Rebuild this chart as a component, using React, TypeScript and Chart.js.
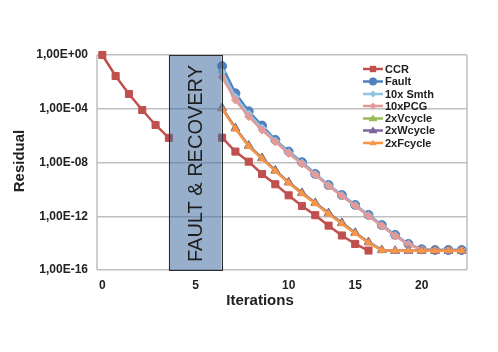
import React, { useEffect, useRef } from 'react';
import { Chart, registerables } from 'chart.js';

Chart.register(...registerables);

// x positions on the plot (fault gap between 5 and 9)
const xTickPositions = [0, 7, 14, 19, 24];
const xTickLabels = ['0', '5', '10', '15', '20'];
const yTickValues = [1e0, 1e-4, 1e-8, 1e-12, 1e-16];
const yTickLabels = ['1,00E+00', '1,00E-04', '1,00E-08', '1,00E-12', '1,00E-16'];

const ccrPrePos = [0, 1, 2, 3, 4, 5];
const ccrPre = [1, 2.75e-2, 1.26e-3, 8.1e-5, 6.2e-6, 6.8e-7];
const gapPos = 7;
const postPos = [9, 10, 11, 12, 13, 14, 15, 16, 17, 18, 19, 20, 21, 22, 23, 24, 25, 26, 27];
const ccrPost = [7e-7, 6.5e-8, 1.15e-8, 1.4e-9, 2.4e-10, 3.6e-11, 5.8e-12, 1.2e-12, 2.0e-13, 3.7e-14, 8.7e-15, 2.8e-15];
const fault = [1.5e-1, 1.4e-3, 6.5e-5, 5.6e-6, 4.8e-7, 6.5e-8, 1.05e-8, 1.4e-9, 2.1e-10, 3.8e-11, 6.9e-12, 1.26e-12, 2.2e-13, 4.1e-14, 8.7e-15, 3.5e-15, 3.1e-15, 3.1e-15, 3.1e-15];
const smth10x = [5.5e-2, 7.4e-4, 4.1e-5, 3.7e-6, 4.0e-7, 5.5e-8, 9e-9, 1.3e-9, 2.0e-10, 3.5e-11, 6.3e-12, 1.15e-12, 2.0e-13, 3.7e-14, 8.3e-15, 3.4e-15, 3.1e-15, 3.1e-15, 3.1e-15];
const pcg10x = [2.3e-2, 4.5e-4, 2.6e-5, 2.6e-6, 3.4e-7, 4.7e-8, 7.8e-9, 1.2e-9, 1.8e-10, 3.2e-11, 5.8e-12, 1.05e-12, 1.9e-13, 3.4e-14, 7.9e-15, 3.4e-15, 3.1e-15, 3.1e-15, 3.1e-15];
const vcycle2x = [1.15e-4, 3.7e-6, 1.85e-7, 2.2e-8, 2.6e-9, 3.5e-10, 5.6e-11, 1.0e-11, 1.75e-12, 3.3e-13, 6.0e-14, 1.23e-14, 3.1e-15, 2.7e-15, 2.7e-15, 2.7e-15, 2.7e-15, 2.7e-15, 2.7e-15];
const wcycle2x = [1.1e-4, 3.5e-6, 1.75e-7, 2.1e-8, 2.5e-9, 3.3e-10, 5.3e-11, 9.5e-12, 1.65e-12, 3.1e-13, 5.7e-14, 1.15e-14, 3.0e-15, 2.7e-15, 2.7e-15, 2.7e-15, 2.7e-15, 2.7e-15, 2.7e-15];
const fcycle2x = [1.0e-4, 3.2e-6, 1.6e-7, 1.9e-8, 2.3e-9, 3.0e-10, 4.8e-11, 8.8e-12, 1.5e-12, 2.8e-13, 5.2e-14, 1.05e-14, 2.9e-15, 2.7e-15, 2.7e-15, 2.7e-15, 2.7e-15, 2.7e-15, 2.7e-15];

const seriesNames = ['CCR', 'Fault', '10x Smth', '10xPCG', '2xVcycle', '2xWcycle', '2xFcycle'];
const seriesColors = ['#C0504D', '#4F81BD', '#93C3E3', '#E39A98', '#9BBB59', '#8064A2', '#F79646'];
const seriesShapes = ['rect', 'circle', 'rectRot', 'rectRot', 'triangle', 'triangle', 'triangle'];
const seriesRadius = [5, 4.5, 4, 4, 5, 5, 4];

const FONT = '"Liberation Sans", Arial, Helvetica, sans-serif';

function post(vals: number[]) {
  return vals.map((v, i) => ({ x: postPos[i], y: v }));
}

function drawMarker(ctx: CanvasRenderingContext2D, shape: string, x: number, y: number, r: number) {
  ctx.beginPath();
  if (shape === 'rect') {
    const s = Math.SQRT1_2 * r;
    ctx.rect(x - s, y - s, 2 * s, 2 * s);
  } else if (shape === 'circle') {
    ctx.arc(x, y, r, 0, Math.PI * 2);
  } else if (shape === 'rectRot') {
    ctx.moveTo(x, y - r);
    ctx.lineTo(x + r, y);
    ctx.lineTo(x, y + r);
    ctx.lineTo(x - r, y);
    ctx.closePath();
  } else {
    const h = r * 1.5;
    ctx.moveTo(x, y - h * 0.6);
    ctx.lineTo(x + r, y + h * 0.4);
    ctx.lineTo(x - r, y + h * 0.4);
    ctx.closePath();
  }
  ctx.fill();
}

const overlayPlugin = {
  id: 'overlay',
  beforeDatasetsDraw(chart: any) {
    const { ctx, chartArea } = chart;
    ctx.save();
    ctx.strokeStyle = '#BFBFBF';
    ctx.lineWidth = 1.5;
    ctx.beginPath();
    ctx.moveTo(chartArea.left, chartArea.top);
    ctx.lineTo(chartArea.left, chartArea.bottom);
    ctx.moveTo(chartArea.right, chartArea.top);
    ctx.lineTo(chartArea.right, chartArea.bottom);
    ctx.stroke();
    ctx.restore();
  },
  afterDatasetsDraw(chart: any) {
    const { ctx, chartArea, scales } = chart;
    const x0 = scales.x.getPixelForValue(5);
    const x1 = scales.x.getPixelForValue(9) - 0.5;
    ctx.save();
    ctx.fillStyle = 'rgba(68,110,160,0.55)';
    ctx.fillRect(x0, chartArea.top, x1 - x0, chartArea.bottom - chartArea.top);
    ctx.strokeStyle = '#2b2b2b';
    ctx.lineWidth = 1;
    ctx.strokeRect(Math.round(x0) + 0.5, chartArea.top + 0.5, Math.round(x1 - x0), chartArea.bottom - chartArea.top);
    ctx.translate((x0 + x1) / 2, 163.5);
    ctx.rotate(-Math.PI / 2);
    ctx.fillStyle = '#1e1e1e';
    ctx.font = '20px ' + FONT;
    ctx.textAlign = 'center';
    ctx.textBaseline = 'middle';
    ctx.fillText('FAULT & RECOVERY', 0, 1);
    ctx.restore();
  },
  afterDraw(chart: any) {
    const { ctx } = chart;
    ctx.save();
    // legend
    const rows = [69, 81.5, 94, 106, 118.5, 130.5, 143];
    ctx.font = 'bold 11px ' + FONT;
    ctx.textBaseline = 'middle';
    ctx.textAlign = 'left';
    for (let i = 0; i < seriesNames.length; i++) {
      const y = rows[i];
      ctx.strokeStyle = seriesColors[i];
      ctx.fillStyle = seriesColors[i];
      ctx.lineWidth = 2.5;
      ctx.beginPath();
      ctx.moveTo(363, y);
      ctx.lineTo(383, y);
      ctx.stroke();
      drawMarker(ctx, seriesShapes[i], 373, y, seriesRadius[i] * 0.9);
      ctx.fillStyle = '#222';
      ctx.fillText(seriesNames[i], 385, y + 0.5);
    }
    // axis titles
    ctx.fillStyle = '#222';
    ctx.font = 'bold 15px ' + FONT;
    ctx.textAlign = 'center';
    ctx.textBaseline = 'middle';
    ctx.fillText('Iterations', 260, 301);
    ctx.translate(20, 161);
    ctx.rotate(-Math.PI / 2);
    ctx.fillText('Residual', 0, 0);
    ctx.restore();
  },
};

export default function App() {
  const ref = useRef<HTMLCanvasElement | null>(null);

  useEffect(() => {
    if (!ref.current) return;
    const mk = (i: number, data: any[]) => ({
      label: seriesNames[i],
      data,
      borderColor: seriesColors[i],
      backgroundColor: seriesColors[i],
      pointBackgroundColor: seriesColors[i],
      pointBorderColor: seriesColors[i],
      pointStyle: seriesShapes[i],
      pointRadius: seriesRadius[i],
      pointBorderWidth: 1,
      borderWidth: 2.5,
      tension: 0,
      spanGaps: false,
      clip: false,
      order: 10 - i,
    });
    const ccrData = [
      ...ccrPre.map((v, i) => ({ x: ccrPrePos[i], y: v })),
      { x: gapPos, y: null },
      ...post(ccrPost),
    ];
    const chart = new Chart(ref.current, {
      type: 'line',
      data: {
        datasets: [
          mk(0, ccrData),
          mk(1, post(fault)),
          mk(2, post(smth10x)),
          mk(3, post(pcg10x)),
          mk(4, post(vcycle2x)),
          mk(5, post(wcycle2x)),
          mk(6, post(fcycle2x)),
        ],
      },
      options: {
        animation: false,
        responsive: false,
        maintainAspectRatio: false,
        layout: { padding: { top: 55, right: 31, left: 0, bottom: 0 } },
        plugins: { legend: { display: false }, tooltip: { enabled: false } },
        scales: {
          x: {
            type: 'linear',
            min: -0.4,
            max: 27.4,
            grid: { display: false, drawTicks: false },
            border: { display: false },
            afterBuildTicks: (s: any) => {
              s.ticks = xTickPositions.map((v) => ({ value: v }));
            },
            afterFit: (s: any) => {
              s.height = 82;
            },
            ticks: {
              autoSkip: false,
              maxRotation: 0,
              padding: 8,
              color: '#222',
              font: { family: FONT, size: 12, weight: 'bold' },
              callback: (v: any) => {
                const i = xTickPositions.indexOf(Number(v));
                return i >= 0 ? xTickLabels[i] : '';
              },
            },
          },
          y: {
            type: 'logarithmic',
            min: 1e-16,
            max: 1,
            grid: { color: '#BFBFBF', lineWidth: 1.5, drawTicks: false },
            border: { display: false },
            afterBuildTicks: (s: any) => {
              s.ticks = yTickValues.map((v) => ({ value: v, major: true }));
            },
            afterFit: (s: any) => {
              s.width = 97;
            },
            ticks: {
              autoSkip: false,
              padding: 9,
              color: '#222',
              font: { family: FONT, size: 12, weight: 'bold' },
              callback: (v: any) => {
                const n = Number(v);
                const i = yTickValues.findIndex((t) => Math.abs(Math.log10(t) - Math.log10(n)) < 1e-6);
                return i >= 0 ? yTickLabels[i] : '';
              },
            },
          },
        },
      } as any,
      plugins: [overlayPlugin],
    });
    return () => chart.destroy();
  }, []);

  return (
    <div style={{ position: 'fixed', left: 0, top: 0, width: 498, height: 352, background: '#fff' }}>
      <canvas ref={ref} width={498} height={352} style={{ width: 498, height: 352, display: 'block' }} />
    </div>
  );
}
